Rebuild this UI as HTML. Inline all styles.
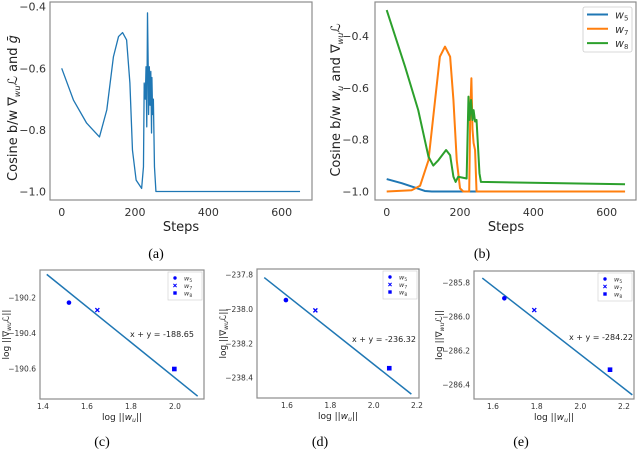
<!DOCTYPE html>
<html><head><meta charset="utf-8"><style>
html,body{margin:0;padding:0;background:#fff;}
svg{display:block;font-family:"DejaVu Sans","Liberation Sans",sans-serif;}
.cap{font-family:"Liberation Serif",serif;font-size:14px;fill:#000;}
</style></head><body>
<svg id="fig" width="640" height="451" viewBox="0 0 640 451" xmlns="http://www.w3.org/2000/svg">
<text class="cap" x="156" y="258" text-anchor="middle">(a)</text>
<text class="cap" x="482" y="258" text-anchor="middle">(b)</text>
<text class="cap" x="102" y="446" text-anchor="middle">(c)</text>
<text class="cap" x="320" y="446" text-anchor="middle">(d)</text>
<text class="cap" x="521" y="446" text-anchor="middle">(e)</text>
</svg>
<script>
// ---- Panel (a) data ----
const aSteps=[0,32,68,103,123,141,155,166,177,186,193,203,218,223,225,228,230,232,234,236,237,239,241,243,245,246,248,250,253,257,650];
const aVals=[-0.60,-0.703,-0.778,-0.823,-0.735,-0.563,-0.497,-0.484,-0.508,-0.648,-0.866,-0.963,-0.99,-0.92,-0.648,-0.70,-0.595,-0.79,-0.42,-0.60,-0.75,-0.595,-0.72,-0.61,-0.81,-0.63,-0.75,-0.70,-0.92,-1.0,-1.0];
const aXTicks=[0,200,400,600];
const aYTicks=[-0.4,-0.6,-0.8,-1.0];
// ---- Panel (b) data ----
const bW5Steps=[0,41,77,104,123,650];
const bW5Vals=[-0.952,-0.968,-0.985,-0.998,-1.0,-1.0];
const bW7Steps=[0,68,91,114,132,145,159,173,182,191,200,209,225,228,231,234,237,241,245,650];
const bW7Vals=[-1.0,-0.995,-0.978,-0.879,-0.647,-0.48,-0.441,-0.48,-0.647,-0.879,-0.988,-1.0,-1.0,-0.686,-0.563,-0.76,-0.813,-0.84,-1.0,-1.0];
const bW8Steps=[0,50,86,114,127,141,162,173,182,188,195,218,223,226,230,234,237,241,245,248,253,257,650];
const bW8Vals=[-0.30,-0.518,-0.686,-0.866,-0.90,-0.879,-0.84,-0.86,-0.943,-0.963,-0.943,-0.95,-0.634,-0.724,-0.647,-0.724,-0.686,-0.73,-0.724,-0.80,-0.93,-0.963,-0.972];
const bXTicks=[0,200,400,600];
const bYTicks=[-0.4,-0.6,-0.8,-1.0];
const bLegend=["w","w","w"];
const bLegendSub=["5","7","8"];
// ---- Scatter panels data ----
const cPtsX=[1.518,1.647,1.997];
const cPtsY=[-190.226,-190.268,-190.60];
const cLineX=[1.417,2.103];
const cConst=-188.65;
const cXTicks=[1.4,1.6,1.8,2.0];
const cYTicks=[-190.2,-190.4,-190.6];
const dPtsX=[1.595,1.731,2.072];
const dPtsY=[-237.946,-238.006,-238.343];
const dLineX=[1.495,2.174];
const dConst=-236.32;
const dXTicks=[1.6,1.8,2.0,2.2];
const dYTicks=[-237.8,-238.0,-238.2,-238.4];
const ePtsX=[1.652,1.789,2.136];
const ePtsY=[-285.89,-285.959,-286.31];
const eLineX=[1.551,2.238];
const eConst=-284.22;
const eXTicks=[1.6,1.8,2.0,2.2];
const eYTicks=[-285.8,-286.0,-286.2,-286.4];

const NS="http://www.w3.org/2000/svg";
const svg=document.getElementById('fig');
function mk(tag,attrs,parent){const e=document.createElementNS(NS,tag);for(const k in attrs)e.setAttribute(k,attrs[k]);(parent||svg).appendChild(e);return e;}
function lin(d0,d1,p0,p1){return v=>p0+(v-d0)*(p1-p0)/(d1-d0);}
function fmt(v,dec){return (v<0?"\u2212":"")+Math.abs(v).toFixed(dec);}

function axesBox(x0,y0,x1,y1,name){
  const r=mk('rect',{x:x0,y:y0,width:x1-x0,height:y1-y0,fill:'none',stroke:'#8c8c8c','stroke-width':1.2});
  
  
}
function ticksX(ticks,sx,y,size,dec,name){
  ticks.forEach(t=>{const e=mk('text',{x:sx(t),y:y,'text-anchor':'middle','font-size':size,fill:'#333'});e.textContent=dec===0?String(t):fmt(t,dec);
    
    });
}
function ticksY(ticks,sy,x,size,dec,name){
  ticks.forEach(t=>{const e=mk('text',{x:x,y:sy(t)+size*0.36,'text-anchor':'end','font-size':size,fill:'#333'});e.textContent=fmt(t,dec);
    
    });
}
function polyline(xs,ys,sx,sy,color,w,name){
  const pts=xs.map((x,i)=>sx(x).toFixed(2)+','+sy(ys[i]).toFixed(2)).join(' ');
  const p=mk('polyline',{points:pts,fill:'none',stroke:color,'stroke-width':w,'stroke-linejoin':'round'});
  
  
}

// Panel a
{
  const sx=lin(0,600,61.7,281.7), sy=lin(-0.4,-1.0,6.7,191.5);
  axesBox(50,2,312,200,'panel-a-axes');
  polyline(aSteps,aVals,sx,sy,'#1f77b4',1.3,'panel-a-line');
  ticksX(aXTicks,sx,216,11,0,'panel-a-x-tick');
  ticksY(aYTicks,sy,46,11,1,'panel-a-y-tick');
  const xl=mk('text',{x:181,y:231,'text-anchor':'middle','font-size':13,fill:'#222'});xl.textContent='Steps';
  
  
  const yl=mk('text',{x:0,y:0,transform:'translate(17,108) rotate(-90)','text-anchor':'middle','font-size':13,fill:'#222'});
  yl.innerHTML='Cosine b/w \u2207<tspan dy="3" font-size="8" font-style="italic">wu</tspan><tspan dy="-3" font-style="italic">\u2112</tspan> and <tspan font-style="italic">\u1E21</tspan>';
  
  
}
// Panel b
{
  const sx=lin(0,600,386.7,606.7), sy=lin(-0.4,-1.0,36,191.5);
  axesBox(375,2,636,200,'panel-b-axes');
  polyline(bW5Steps,bW5Vals,sx,sy,'#1f77b4',2,'panel-b-w5-line');
  polyline(bW7Steps,bW7Vals,sx,sy,'#ff7f0e',2,'panel-b-w7-line');
  polyline(bW8Steps,bW8Vals,sx,sy,'#2ca02c',2,'panel-b-w8-line');
  ticksX(bXTicks,sx,216,11,0,'panel-b-x-tick');
  ticksY(bYTicks,sy,369,11,1,'panel-b-y-tick');
  const xl=mk('text',{x:506,y:231,'text-anchor':'middle','font-size':13,fill:'#222'});xl.textContent='Steps';
  
  
  const yl=mk('text',{x:0,y:0,transform:'translate(340,100) rotate(-90)','text-anchor':'middle','font-size':13,fill:'#222'});
  yl.innerHTML='Cosine b/w <tspan font-style="italic">w</tspan><tspan dy="3" font-size="8" font-style="italic">u</tspan><tspan dy="-3"> and \u2207</tspan><tspan dy="3" font-size="8" font-style="italic">wu</tspan><tspan dy="-3" font-style="italic">\u2112</tspan>';
  
  
  const lg=mk('rect',{x:583,y:7,width:49,height:45,fill:'#fff',stroke:'#ccc','stroke-width':0.8,rx:2});
  
  
  const cols=['#1f77b4','#ff7f0e','#2ca02c'];
  bLegend.forEach((l,i)=>{
    const yy=14.5+i*14.3;
    const ln=mk('line',{x1:587,x2:608,y1:yy,y2:yy,stroke:cols[i],'stroke-width':2});
    
    
    const t=mk('text',{x:615,y:yy+4,'font-size':11,fill:'#333','font-style':'italic'});
    t.innerHTML=l+'<tspan dy="2" font-size="7" font-style="normal">'+bLegendSub[i]+'</tspan>';
    
    
  });
}
// Scatter panels
function scatterPanel(p){
  const sx=lin(p.xd[0],p.xd[1],p.xp[0],p.xp[1]), sy=lin(p.yd[0],p.yd[1],p.yp[0],p.yp[1]);
  axesBox(p.box[0],p.box[1],p.box[2],p.box[3],p.id+'-axes');
  const ly=p.lineX.map(x=>p.c-x);
  polyline(p.lineX,ly,sx,sy,'#1f77b4',1.5,p.id+'-fit-line');
  p.px.forEach((x,i)=>{
    const X=sx(x),Y=sy(p.py[i]);let e;
    if(i===0) e=mk('circle',{cx:X,cy:Y,r:2.3,fill:'#0000ff'});
    else if(i===1) e=mk('path',{d:`M${X-2},${Y-2}L${X+2},${Y+2}M${X-2},${Y+2}L${X+2},${Y-2}`,stroke:'#0000ff','stroke-width':1.3});
    else e=mk('rect',{x:X-2.3,y:Y-2.3,width:4.6,height:4.6,fill:'#0000ff'});
    
    
  });
  ticksX(p.xt,sx,p.box[3]+10,7.5,1,p.id+'-x-tick');
  ticksY(p.yt,sy,p.box[0]-4,7.5,1,p.id+'-y-tick');
  const eq=mk('text',{x:p.eq[0],y:p.eq[1],'font-size':8,fill:'#222'});
  eq.textContent='x + y = '+p.c.toFixed(2);
  
  
  const xl=mk('text',{x:(p.box[0]+p.box[2])/2,y:p.box[3]+21,'text-anchor':'middle','font-size':9,fill:'#222'});
  xl.innerHTML='log ||<tspan font-style="italic">w</tspan><tspan dy="2" font-size="6" font-style="italic">u</tspan><tspan dy="-2">||</tspan>';
  
  
  const yl=mk('text',{x:0,y:0,transform:`translate(${p.ylx},${(p.box[1]+p.box[3])/2}) rotate(-90)`,'text-anchor':'middle','font-size':9,fill:'#222'});
  yl.innerHTML='log ||\u2207<tspan dy="2" font-size="6" font-style="italic">wu</tspan><tspan dy="-2" font-style="italic">\u2112</tspan>||';
  
  
  const L=p.box[2]-36,T=p.box[1]+2;
  const lg=mk('rect',{x:L,y:T,width:34,height:28,fill:'#fff',stroke:'#ccc','stroke-width':0.6});
  
  
  ['5','7','8'].forEach((s,i)=>{
    const yy=T+6+i*7.5, X=L+7;let e;
    if(i===0) e=mk('circle',{cx:X,cy:yy,r:1.7,fill:'#0000ff'});
    else if(i===1) e=mk('path',{d:`M${X-1.6},${yy-1.6}L${X+1.6},${yy+1.6}M${X-1.6},${yy+1.6}L${X+1.6},${yy-1.6}`,stroke:'#0000ff','stroke-width':1});
    else e=mk('rect',{x:X-1.7,y:yy-1.7,width:3.4,height:3.4,fill:'#0000ff'});
    
    
    const t=mk('text',{x:L+16,y:yy+2.5,'font-size':6.5,fill:'#333','font-style':'italic'});
    t.innerHTML='w<tspan dy="1.5" font-size="4.5" font-style="normal">'+s+'</tspan>';
    
    
  });
}
scatterPanel({id:'panel-c',box:[40,270,204,399],xd:[1.4,2.0],xp:[43,175],yd:[-190.2,-190.6],yp:[298,369],px:cPtsX,py:cPtsY,lineX:cLineX,c:cConst,xt:cXTicks,yt:cYTicks,eq:[130,337],ylx:9});
scatterPanel({id:'panel-d',box:[257,269,419,398],xd:[1.6,2.2],xp:[287,417],yd:[-237.8,-238.4],yp:[275,378],px:dPtsX,py:dPtsY,lineX:dLineX,c:dConst,xt:dXTicks,yt:dYTicks,eq:[352,342],ylx:226});
scatterPanel({id:'panel-e',box:[474,271,634,399],xd:[1.6,2.2],xp:[493,624],yd:[-285.8,-286.4],yp:[283,385],px:ePtsX,py:ePtsY,lineX:eLineX,c:eConst,xt:eXTicks,yt:eYTicks,eq:[569,340],ylx:442});
</script>
</body></html>
